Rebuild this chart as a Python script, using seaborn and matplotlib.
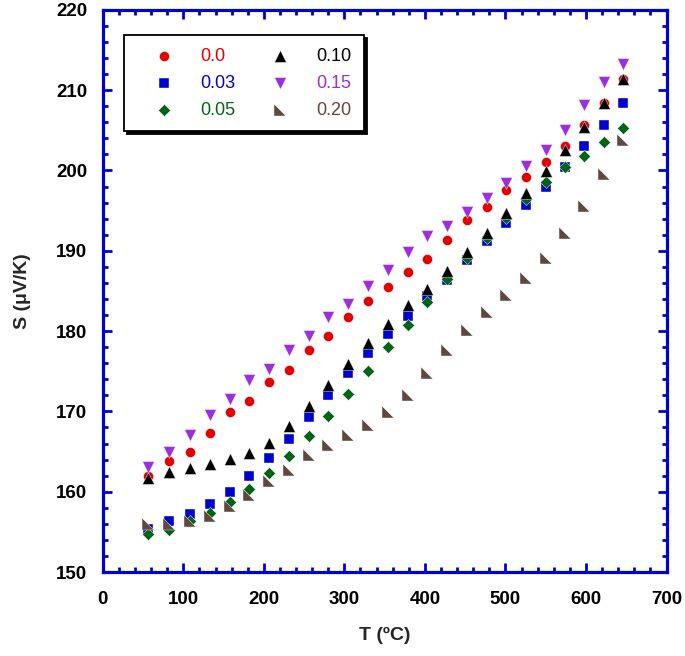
import numpy as np
import matplotlib
matplotlib.use("Agg")
import matplotlib.pyplot as plt
from matplotlib.path import Path
from matplotlib.ticker import MultipleLocator
import seaborn as sns

sns.set_style("ticks")
plt.rcParams['font.family'] = ['Liberation Sans', 'DejaVu Sans']

# temperature (ºC), same for every composition
T = [56, 82, 108, 133, 158, 182, 206, 231, 256, 280, 305, 329, 354,
     379, 403, 428, 452, 477, 501, 525, 550, 574, 598, 623, 646]

# Seebeck coefficient S (uV/K) per composition
s_00 = [162.0, 163.8, 165.0, 167.3, 169.9, 171.3, 173.6, 175.1, 177.7, 179.4, 181.7, 183.7, 185.5,
        187.3, 189.0, 191.4, 193.8, 195.5, 197.6, 199.2, 201.1, 203.1, 205.6, 208.4, 211.4]
s_003 = [155.3, 156.3, 157.2, 158.5, 160.0, 162.0, 164.2, 166.6, 169.3, 172.0, 174.8, 177.3, 179.6,
         181.9, 184.4, 186.4, 188.9, 191.2, 193.5, 195.7, 197.9, 200.4, 203.0, 205.6, 208.4]
s_005 = [154.7, 155.2, 156.3, 157.4, 158.7, 160.3, 162.3, 164.5, 166.9, 169.4, 172.2, 175.0, 178.0,
         180.8, 183.6, 186.5, 189.1, 191.6, 194.1, 196.4, 198.6, 200.4, 201.8, 203.5, 205.3]
s_010 = [161.7, 162.4, 162.9, 163.5, 164.1, 164.8, 166.1, 168.2, 170.7, 173.3, 175.9, 178.5, 180.9,
         183.2, 185.3, 187.5, 189.8, 192.2, 194.7, 197.2, 199.9, 202.6, 205.4, 208.4, 211.4]
s_015 = [163.1, 165.0, 167.1, 169.6, 171.6, 173.9, 175.3, 177.6, 179.4, 181.7, 183.4, 185.6, 187.6,
         189.9, 191.8, 193.1, 194.8, 196.6, 198.5, 200.6, 202.6, 205.1, 208.1, 211.0, 213.2]
s_020 = [156.0, 156.0, 156.3, 157.0, 158.2, 159.6, 161.3, 162.7, 164.6, 165.8, 167.1, 168.3, 169.9,
         172.1, 174.8, 177.6, 180.1, 182.4, 184.5, 186.6, 189.1, 192.2, 195.6, 199.5, 203.8]

labels = ['0.0', '0.03', '0.05', '0.10', '0.15', '0.20']
colors = ['#e30000', '#0000d0', '#006414', '#000000', '#9a2ee0', '#604840']

# right triangle with right angle at bottom-left
corner_tri = Path([(-1, 1), (-1, -1), (1, -1), (-1, 1)],
                  [Path.MOVETO, Path.LINETO, Path.LINETO, Path.CLOSEPOLY])
markers = ['o', 's', 'D', '^', 'v', corner_tri]
sizes = [52, 46, 38, 74, 74, 84]

fig = plt.figure(figsize=(6.85, 6.56), dpi=100)
ax = fig.add_axes([0.150, 0.128, 0.823, 0.857])

series = [s_00, s_003, s_005, s_010, s_015, s_020]
for vals, lab, c, m, sz in zip(series, labels, colors, markers, sizes):
    sns.scatterplot(x=T, y=vals, ax=ax, color=c, marker=m, s=sz,
                    edgecolor='white', linewidth=0.3, label=lab, zorder=3)

ax.set_xlim(0, 700)
ax.set_ylim(150, 220)
ax.xaxis.set_major_locator(MultipleLocator(100))
ax.xaxis.set_minor_locator(MultipleLocator(20))
ax.yaxis.set_major_locator(MultipleLocator(10))
ax.yaxis.set_minor_locator(MultipleLocator(2))

blue = '#0000d0'
for sp in ax.spines.values():
    sp.set_visible(True)
    sp.set_color(blue)
    sp.set_linewidth(2.3)
ax.tick_params(which='both', direction='in', top=True, right=True, color=blue,
               labelsize=13.5, labelcolor='black')
ax.tick_params(which='major', length=6.5, width=2)
ax.tick_params(which='minor', length=3.5, width=2)
ax.tick_params(axis='x', pad=14)
ax.tick_params(axis='y', pad=11)
for t in ax.get_xticklabels() + ax.get_yticklabels():
    t.set_fontweight('bold')

ax.set_xlabel('T (ºC)', fontsize=14, fontweight='bold', labelpad=13)
ax.set_ylabel('S (μV/K)', fontsize=14, fontweight='bold', labelpad=18)

leg = ax.legend(ncol=2, loc='upper left', bbox_to_anchor=(0.038, 0.955),
                borderaxespad=0, fontsize=13, labelcolor=colors,
                frameon=True, fancybox=False, edgecolor='black',
                shadow={'color': 'black', 'alpha': 1}, framealpha=1,
                handlelength=3.0, handletextpad=0.5, columnspacing=1.0,
                labelspacing=0.55, borderpad=0.7)
leg.get_frame().set_linewidth(1.3)

fig.savefig('out.png', dpi=100)
